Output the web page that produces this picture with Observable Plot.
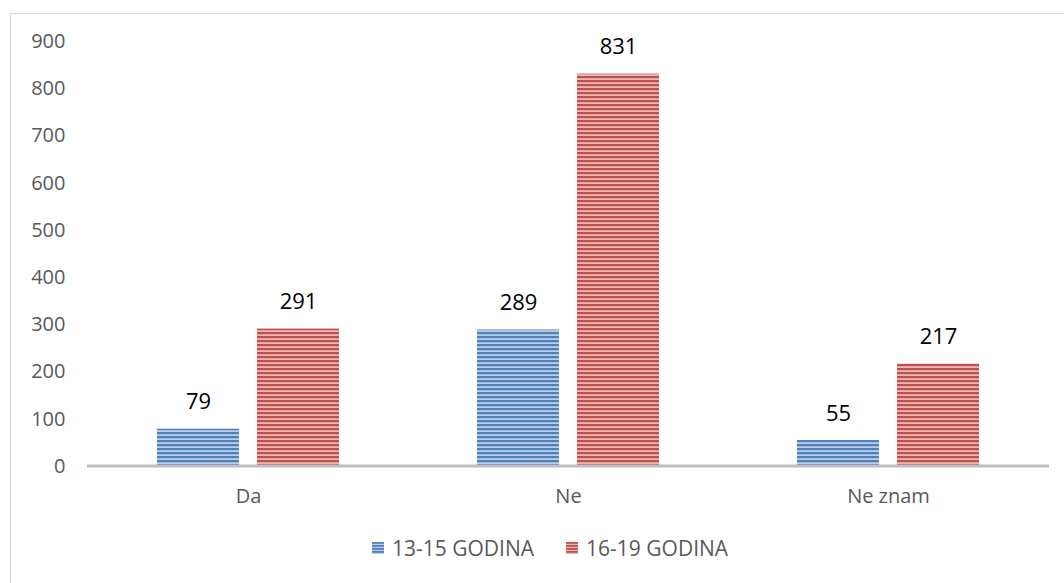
<!DOCTYPE html>
<html>
<head>
<meta charset="utf-8">
<script src="https://cdn.jsdelivr.net/npm/d3@7"></script>
<script src="https://cdn.jsdelivr.net/npm/@observablehq/plot@0.6"></script>
<style>
  body { margin: 0; background: #fff; font-family: "Open Sans", sans-serif; }
  #wrap { position: relative; width: 1064px; height: 583px; overflow: hidden; }
  #frame { position: absolute; left: 10px; top: 13px; width: 1100px; height: 600px; border: 1px solid #d9d9d9; box-sizing: border-box; }
  #chart { position: absolute; left: 0; top: 0; }
  #legend { position: absolute; top: 534px; left: 372px; display: flex; gap: 32px; font-size: 21px; color: #595959; white-space: nowrap; }
  .item { display: flex; align-items: center; gap: 8px; }
  .sw { width: 12px; height: 12px; }
</style>
</head>
<body>
<div id="wrap">
  <div id="frame"></div>
  <div id="chart"></div>
  <div id="legend"></div>
</div>
<script>
const categories = ["Da", "Ne", "Ne znam"];
const seriesNames = ["13-15 GODINA", "16-19 GODINA"];
const values1315 = [79, 289, 55];
const values1619 = [291, 831, 217];
const yTicks = [0, 100, 200, 300, 400, 500, 600, 700, 800, 900];

const data = [];
categories.forEach((c, i) => {
  data.push({category: c, series: seriesNames[0], value: values1315[i]});
  data.push({category: c, series: seriesNames[1], value: values1619[i]});
});
const blueData = data.filter(d => d.series === seriesNames[0]);
const redData = data.filter(d => d.series === seriesNames[1]);

const plot = Plot.plot({
  width: 1064,
  height: 520,
  marginLeft: 87,
  marginRight: 15,
  marginTop: 41,
  marginBottom: 54,
  style: {fontFamily: "'Open Sans', sans-serif", background: "transparent"},
  fx: {domain: categories, paddingInner: 0.426, paddingOuter: 0.213, label: null, tickSize: 0, tickPadding: 22},
  x: {domain: seriesNames, paddingInner: 0.178, paddingOuter: 0, axis: null},
  y: {domain: [0, 900], ticks: yTicks, label: null, tickSize: 0, tickPadding: 91},
  marks: [
    Plot.barY(blueData, {fx: "category", x: "series", y: "value", fill: "url(#patBlue)"}),
    Plot.barY(redData, {fx: "category", x: "series", y: "value", fill: "url(#patRed)"}),
    Plot.text(data, {fx: "category", x: "series", y: "value", text: d => String(d.value), dy: -27, lineAnchor: "middle", fontSize: 22, fill: "#000"})
  ]
});

// style axes
plot.querySelectorAll("g[aria-label='y-axis tick label'] text, g[aria-label='fx-axis tick label'] text").forEach(t => {
  t.setAttribute("fill", "#595959");
});
plot.querySelectorAll("g[aria-label='y-axis tick label']").forEach(g => g.setAttribute("font-size", 20));
plot.querySelectorAll("g[aria-label='fx-axis tick label']").forEach(g => g.setAttribute("font-size", 20));

const ns = "http://www.w3.org/2000/svg";

// full-width baseline at y = 0, positioned via the plot's y scale
const y0 = plot.scale("y").apply(0);
const base = document.createElementNS(ns, "line");
base.setAttribute("x1", 87);
base.setAttribute("x2", 1049);
base.setAttribute("y1", y0);
base.setAttribute("y2", y0);
base.setAttribute("stroke", "#bfbfbf");
base.setAttribute("stroke-width", 3);
plot.appendChild(base);

// patterns
function makePattern(id, dark, light, h, dh) {
  const p = document.createElementNS(ns, "pattern");
  p.setAttribute("id", id);
  p.setAttribute("patternUnits", "userSpaceOnUse");
  p.setAttribute("width", 4);
  p.setAttribute("height", h);
  const r1 = document.createElementNS(ns, "rect");
  r1.setAttribute("width", 4); r1.setAttribute("height", h); r1.setAttribute("fill", light);
  const r2 = document.createElementNS(ns, "rect");
  r2.setAttribute("width", 4); r2.setAttribute("height", dh); r2.setAttribute("fill", dark);
  p.appendChild(r1); p.appendChild(r2);
  return p;
}
const defs = document.createElementNS(ns, "defs");
defs.appendChild(makePattern("patBlue", "#4f81bd", "#b9cde8", 4, 2.2));
defs.appendChild(makePattern("patRed", "#c0504d", "#eab8b6", 4, 2.2));
plot.insertBefore(defs, plot.firstChild);

document.getElementById("chart").appendChild(plot);

// legend
const legend = document.getElementById("legend");
[["patBlue", seriesNames[0], "#4f81bd", "#b9cde8"], ["patRed", seriesNames[1], "#c0504d", "#eab8b6"]].forEach(([pid, name, dark, light]) => {
  const item = document.createElement("div");
  item.className = "item";
  const sw = document.createElementNS(ns, "svg");
  sw.setAttribute("width", 12); sw.setAttribute("height", 12);
  sw.setAttribute("class", "sw");
  const d = document.createElementNS(ns, "defs");
  d.appendChild(makePattern(pid + "L", dark, light, 3, 1.8));
  sw.appendChild(d);
  const r = document.createElementNS(ns, "rect");
  r.setAttribute("width", 12); r.setAttribute("height", 12); r.setAttribute("fill", `url(#${pid}L)`);
  sw.appendChild(r);
  const label = document.createElement("span");
  label.textContent = name;
  item.appendChild(sw); item.appendChild(label);
  legend.appendChild(item);
});
</script>
</body>
</html>
